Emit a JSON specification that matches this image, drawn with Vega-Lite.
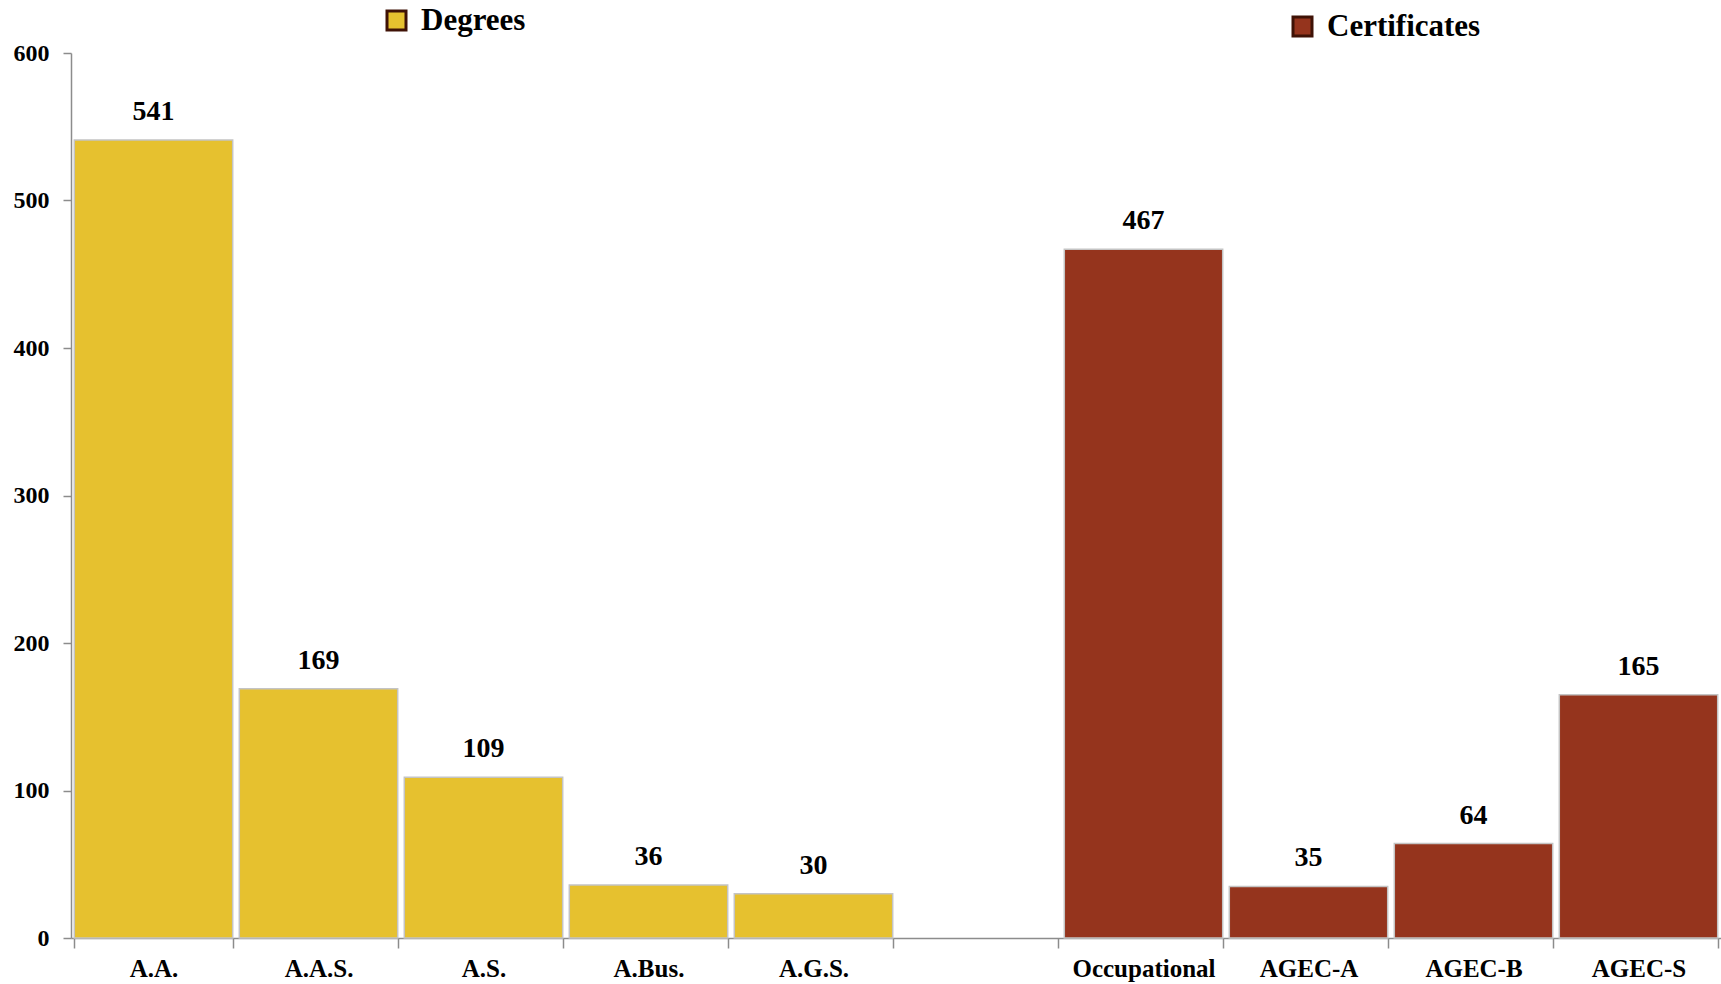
{
  "$schema": "https://vega.github.io/schema/vega-lite/v6.json",
  "width": 1650,
  "height": 885,
  "autosize": {"type": "none"},
  "padding": {"left": 71, "top": 53, "right": 0, "bottom": 46},
  "background": "white",
  "config": {
    "view": {"stroke": null},
    "font": "Liberation Serif",
    "legend": {"padding": 0, "labelFont": "Liberation Serif", "labelFontSize": 31, "labelFontWeight": "bold", "labelColor": "#000000", "symbolType": "square", "symbolSize": 361, "symbolStrokeWidth": 3, "labelOffset": 9, "titleFontSize": 0}
  },
  "encoding": {
    "x": {
      "field": "label", "type": "nominal", "sort": null,
      "scale": {"domain": ["A.A.", "A.A.S.", "A.S.", "A.Bus.", "A.G.S.", " ", "Occupational", "AGEC-A", "AGEC-B", "AGEC-S"], "paddingInner": 0.04, "paddingOuter": 0.02},
      "axis": {"title": null, "labelAngle": 0, "tickBand": "extent", "tickSize": 10, "tickColor": "#8c8c8c", "tickWidth": 1.5, "domainColor": "#8c8c8c", "domainWidth": 1.5, "labelFont": "Liberation Serif", "labelFontSize": 25, "labelFontWeight": "bold", "labelColor": "#000000", "labelPadding": 8, "grid": false}
    },
    "y": {
      "field": "value", "type": "quantitative",
      "scale": {"domain": [0, 600], "nice": false},
      "axis": {"title": null, "values": [0, 100, 200, 300, 400, 500, 600], "tickSize": 8, "tickColor": "#8c8c8c", "tickWidth": 1.5, "domainColor": "#8c8c8c", "domainWidth": 1.5, "labelFont": "Liberation Serif", "labelFontSize": 24, "labelFontWeight": "bold", "labelColor": "#000000", "labelPadding": 14, "grid": false}
    }
  },
  "layer": [
    {
      "data": {"values": [
        {"label": "A.A.", "value": 541, "group": "Degrees"},
        {"label": "A.A.S.", "value": 169, "group": "Degrees"},
        {"label": "A.S.", "value": 109, "group": "Degrees"},
        {"label": "A.Bus.", "value": 36, "group": "Degrees"},
        {"label": "A.G.S.", "value": 30, "group": "Degrees"}
      ]},
      "layer": [
        {
          "mark": {"type": "bar", "stroke": "#c4c4c4", "strokeWidth": 1.5},
          "encoding": {
            "color": {"field": "group", "type": "nominal",
              "scale": {"domain": ["Degrees"], "range": ["#E6C12F"]},
              "legend": {"title": null, "orient": "none", "legendX": 310, "legendY": -48, "symbolStrokeColor": "#3f1206"}}
          }
        },
        {
          "mark": {"type": "text", "baseline": "alphabetic", "dy": -20, "font": "Liberation Serif", "fontSize": 28, "fontWeight": "bold", "color": "#000000"},
          "encoding": {"text": {"field": "value", "type": "quantitative"}}
        }
      ]
    },
    {
      "data": {"values": [
        {"label": "Occupational", "value": 467, "group": "Certificates"},
        {"label": "AGEC-A", "value": 35, "group": "Certificates"},
        {"label": "AGEC-B", "value": 64, "group": "Certificates"},
        {"label": "AGEC-S", "value": 165, "group": "Certificates"}
      ]},
      "layer": [
        {
          "mark": {"type": "bar", "stroke": "#c4c4c4", "strokeWidth": 1.5},
          "encoding": {
            "color": {"field": "group", "type": "nominal",
              "scale": {"domain": ["Certificates"], "range": ["#95341D"]},
              "legend": {"title": null, "orient": "none", "legendX": 1216, "legendY": -42, "symbolStrokeColor": "#3f1206"}}
          }
        },
        {
          "mark": {"type": "text", "baseline": "alphabetic", "dy": -20, "font": "Liberation Serif", "fontSize": 28, "fontWeight": "bold", "color": "#000000"},
          "encoding": {"text": {"field": "value", "type": "quantitative"}}
        }
      ]
    }
  ],
  "resolve": {"scale": {"color": "independent"}, "legend": {"color": "independent"}}
}
